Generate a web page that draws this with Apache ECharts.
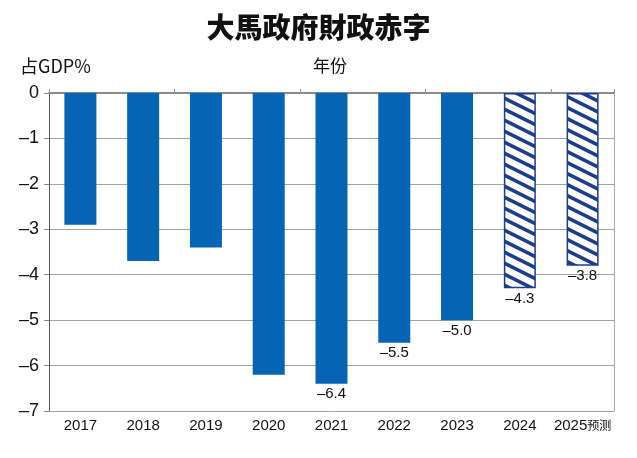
<!DOCTYPE html>
<html>
<head>
<meta charset="utf-8">
<script src="https://cdn.jsdelivr.net/npm/echarts@6/dist/echarts.min.js"></script>
<style>
html,body{margin:0;padding:0;background:#fff;}
#chart{width:637px;height:458px;}
</style>
</head>
<body>
<div id="chart"></div>
<script>
const categories = ['2017','2018','2019','2020','2021','2022','2023','2024','2025预测'];
const values = [-2.9, -3.7, -3.4, -6.2, -6.4, -5.5, -5.0, -4.3, -3.8];
const showLabel = [false, false, false, false, true, true, true, true, true];
const isForecast = [false, false, false, false, false, false, false, true, true];
const yTicks = [0, -1, -2, -3, -4, -5, -6, -7];

const SOLID = '#0565b4';
const NAVY = '#1b3d8f';
const SANS = '"Liberation Sans",Arial,sans-serif';
const CJK = '"Noto Sans CJK SC",sans-serif';

function makeHatch() {
  const W = 22, H = 11;
  const c = document.createElement('canvas');
  c.width = W; c.height = H;
  const ctx = c.getContext('2d');
  ctx.fillStyle = '#ffffff';
  ctx.fillRect(0, 0, W, H);
  ctx.strokeStyle = NAVY;
  ctx.lineWidth = 3.6;
  for (let k = -1; k <= 1; k++) {
    ctx.beginPath();
    ctx.moveTo(-2, k * H - 1);
    ctx.lineTo(W + 2, k * H + H + 1);
    ctx.stroke();
  }
  return c;
}
const hatch = makeHatch();

const fmt = v => (v < 0 ? '\u2013' + Math.abs(v).toFixed(1) : v.toFixed(1));

const barData = values.map((v, i) => {
  const d = { value: v };
  if (isForecast[i]) {
    d.itemStyle = { color: { image: hatch, repeat: 'repeat' }, borderColor: NAVY, borderWidth: 1.5 };
  } else {
    d.itemStyle = { color: SOLID };
  }
  d.label = { show: showLabel[i] };
  return d;
});

const chart = echarts.init(document.getElementById('chart'), null, { renderer: 'canvas' });
chart.setOption({
  animation: false,
  backgroundColor: '#ffffff',
  title: {
    text: '大馬政府財政赤字',
    left: 'center',
    top: 8,
    textStyle: { fontSize: 28, fontWeight: 900, color: '#111', fontFamily: '"Noto Sans CJK TC","Noto Sans CJK SC",sans-serif' }
  },
  graphic: [
    { type: 'text', left: 20, top: 57, style: { text: '占GDP%', fontSize: 18, fill: '#111', fontFamily: '"Noto Sans CJK SC","Liberation Sans",sans-serif' } },
    { type: 'text', left: 313, top: 57, style: { text: '年份', fontSize: 17, fill: '#111', fontFamily: CJK } }
  ],
  grid: { left: 49, right: 23, top: 93, bottom: 47, containLabel: false },
  xAxis: [
    {
      type: 'category', data: categories, position: 'bottom',
      axisLine: { show: true, lineStyle: { color: '#8a8a8a', width: 2 } },
      axisTick: { show: false },
      axisLabel: {
        fontSize: 15, color: '#111', margin: 7, fontFamily: SANS, interval: 0,
        formatter: v => {
          const m = v.match(/^(\d+)(.*)$/);
          return m && m[2] ? '{n|' + m[1] + '}{c|' + m[2] + '}' : '{n|' + v + '}';
        },
        rich: {
          n: { fontSize: 15, fontFamily: SANS, color: '#111' },
          c: { fontSize: 12, fontFamily: CJK, color: '#111' }
        }
      }
    },
    {
      type: 'category', data: categories, position: 'top',
      axisLine: { show: false },
      axisTick: { show: true, length: 4, inside: false, lineStyle: { color: '#999' } },
      axisLabel: { show: false }
    }
  ],
  yAxis: [
    {
      type: 'value', min: -7, max: 0, interval: 1,
      axisLine: { show: true, lineStyle: { color: '#555', width: 1 } },
      axisTick: { show: true, length: 5, lineStyle: { color: '#888' } },
      splitLine: { show: true, lineStyle: { color: '#a3a3a3', width: 1 } },
      axisLabel: {
        fontSize: 18, color: '#111', margin: 10, fontFamily: SANS,
        formatter: v => (yTicks.indexOf(v) >= 0 ? (v < 0 ? '\u2013' + Math.abs(v) : String(v)) : '')
      }
    },
    {
      type: 'value', min: -7, max: 0, interval: 1, position: 'right',
      axisLine: { show: true, lineStyle: { color: '#aaa', width: 1 } },
      axisTick: { show: false }, splitLine: { show: false }, axisLabel: { show: false }
    }
  ],
  series: [{
    type: 'bar',
    data: barData,
    barWidth: 32,
    label: {
      position: 'bottom', distance: 3, fontSize: 15, color: '#111', fontFamily: SANS,
      formatter: p => fmt(p.value)
    }
  }]
});
</script>
</body>
</html>
